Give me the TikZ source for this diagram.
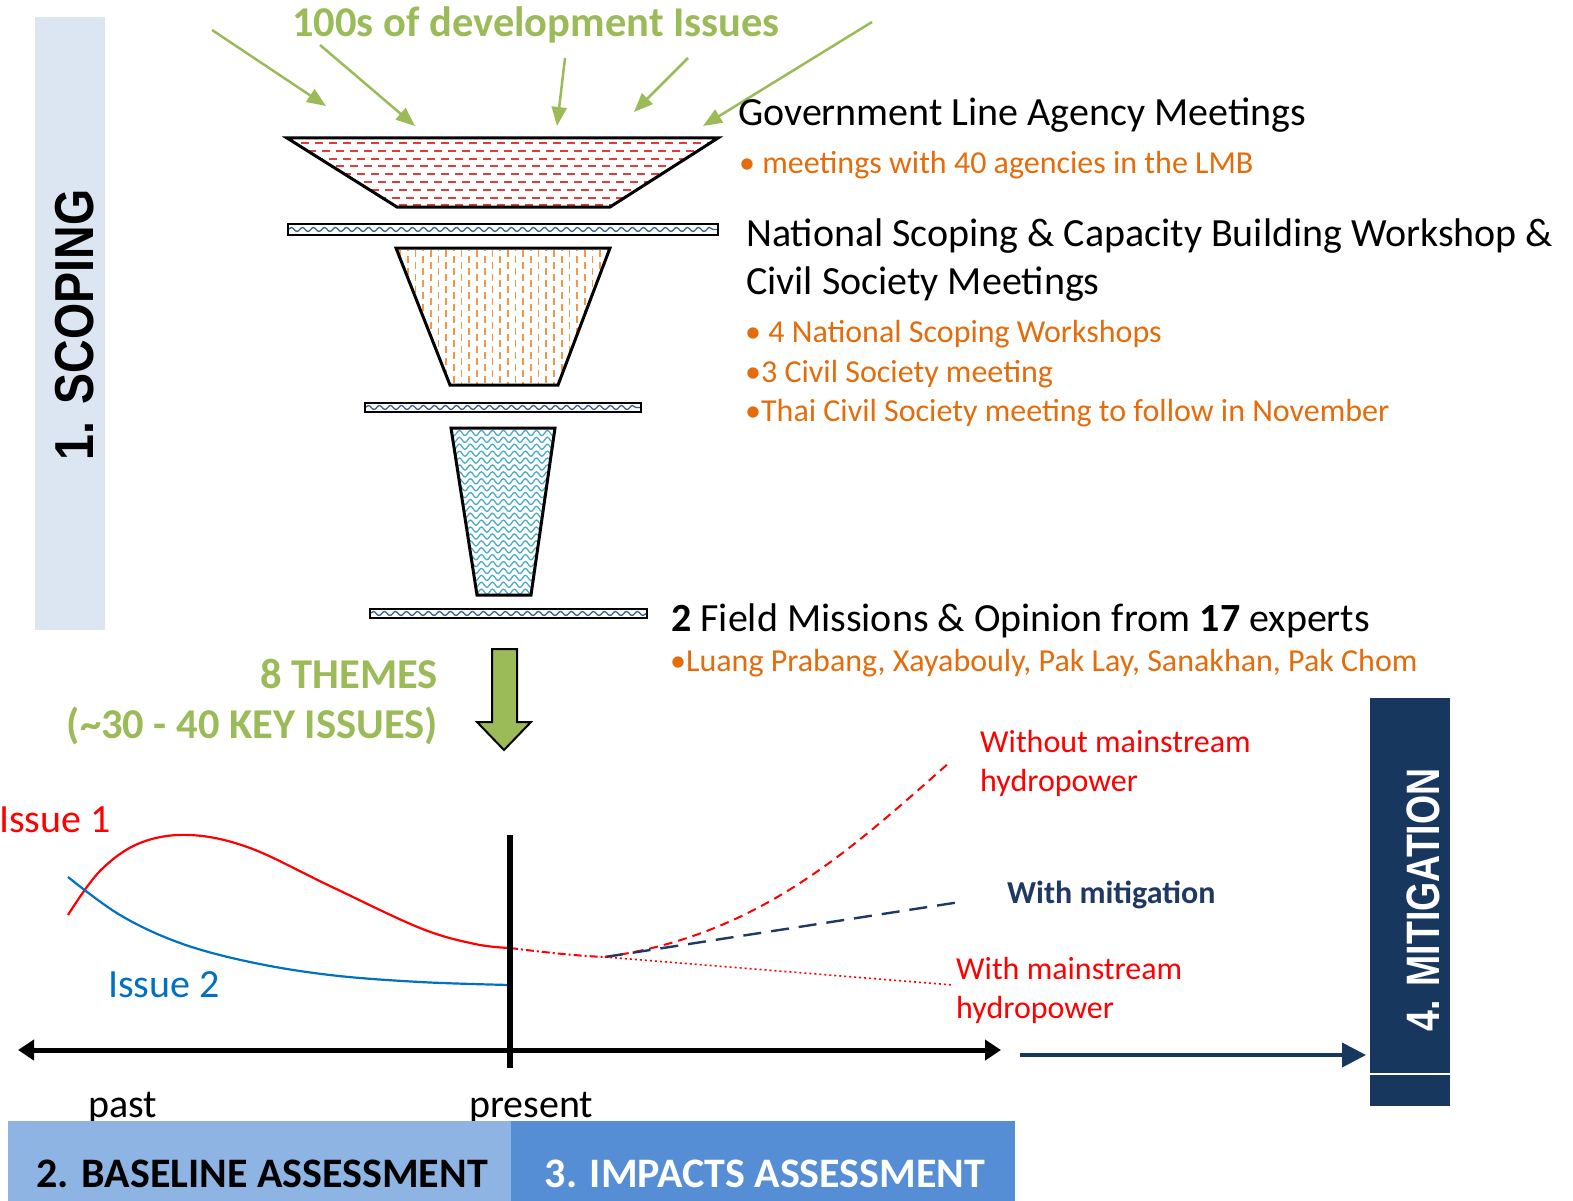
\documentclass[tikz,border=0pt]{standalone}
\usepackage{fontspec}
\setmainfont{Carlito}
\newfontfamily\arialf{Liberation Sans}
\usetikzlibrary{arrows.meta,decorations.pathmorphing}
\definecolor{scopebg}{HTML}{DCE6F2}
\definecolor{gr}{HTML}{9BBB59}
\definecolor{org}{HTML}{E46C0A}
\definecolor{navy}{HTML}{17375E}
\definecolor{basef}{HTML}{8EB4E3}
\definecolor{impf}{HTML}{558ED5}
\definecolor{iss2}{HTML}{0070C0}
\definecolor{dred}{HTML}{E03C3C}
\definecolor{wavb}{HTML}{3A5F8F}
\definecolor{orgd}{HTML}{F79646}
\definecolor{lblue}{HTML}{4BACC6}
\definecolor{mitn}{HTML}{1F3864}
\begin{document}
\begin{tikzpicture}[x=1pt,y=-1pt,
  lbl/.style={inner sep=0pt, anchor=base west},
  maintxt/.style={lbl, font=\fontsize{40}{40}\selectfont},
  subtxt/.style={lbl, text=org, font=\fontsize{32}{32}\selectfont},
  curvetxt/.style={lbl, text=red, font=\fontsize{32}{32}\selectfont},
  greentxt/.style={inner sep=0pt, text=gr, font=\fontsize{42.5}{42.5}\selectfont\bfseries},
  greenarrow/.style={draw=gr, line width=2.5pt, -{Triangle[length=19pt,width=15pt]}},
  funnelborder/.style={draw=black, line width=3pt, line join=miter},
  barwave/.style={wavb, line width=1.3pt, decorate, decoration={snake, segment length=11pt, amplitude=2pt}},
  bandtxt/.style={inner sep=0pt, font=\fontsize{42}{42}\selectfont\bfseries}
]
\useasboundingbox (0,0) rectangle (1573,1201);

% ---------- scoping band
\fill[scopebg] (35,17) rectangle (105,630);
\node[rotate=90, inner sep=0pt] (scoping) at (75,325)
  {\scalebox{1}[1.18]{\arialf\fontsize{46.5}{46.5}\selectfont\bfseries 1. SCOPING}};

% ---------- title and green arrows
\node[greentxt, anchor=base] (title) at (536,37) {100s of development Issues};
\coordinate (a1s) at (212,30);  \coordinate (a1e) at (326,106);
\coordinate (a2s) at (320,45);  \coordinate (a2e) at (415,126);
\coordinate (a3s) at (565,58);  \coordinate (a3e) at (557,126);
\coordinate (a4s) at (688,58);  \coordinate (a4e) at (634,112);
\coordinate (a5s) at (872,22);  \coordinate (a5e) at (703,126);
\foreach \s/\e in {a1s/a1e,a2s/a2e,a3s/a3e,a4s/a4e,a5s/a5e}
  \draw[greenarrow] (\s) -- (\e);

% ---------- funnel 1 (red dashes)
\begin{scope}
  \clip (287,138) -- (718,138) -- (610,207) -- (397,207) -- cycle;
  \foreach \k in {0,...,8} {
    \pgfmathsetmacro{\yy}{143+\k*7.8}
    \pgfmathsetmacro{\ph}{mod(\k,2)*7}
    \draw[dred, line width=1.9pt, dash pattern=on 8pt off 6pt, dash phase=\ph pt] (287,\yy) -- (718,\yy);
  }
\end{scope}
\draw[funnelborder] (287,138) -- (718,138) -- (610,207) -- (397,207) -- cycle;

% bar 1
\fill[white] (288,224) rectangle (718,235);
\begin{scope}\clip (288,224) rectangle (718,235);
  \draw[barwave] (288,229.5) -- (718,229.5);
\end{scope}
\draw[black, line width=2.5pt] (288,224) rectangle (718,235);

% ---------- funnel 2 (orange vertical dashes)
\begin{scope}
  \clip (396,248) -- (610,248) -- (558,385) -- (450,385) -- cycle;
  \foreach \k in {0,...,28} {
    \pgfmathsetmacro{\xx}{400+\k*7.7}
    \pgfmathsetmacro{\ph}{mod(\k,2)*6}
    \draw[orgd, line width=1.7pt, dash pattern=on 7pt off 5pt, dash phase=\ph pt] (\xx,250) -- (\xx,385);
  }
\end{scope}
\draw[funnelborder] (396,248) -- (610,248) -- (558,385) -- (450,385) -- cycle;

% bar 2
\fill[white] (365,403) rectangle (641,412);
\begin{scope}\clip (365,403) rectangle (641,412);
  \draw[barwave] (365,407.5) -- (641,407.5);
\end{scope}
\draw[black, line width=2.5pt] (365,403) rectangle (641,412);

% ---------- funnel 3 (light blue waves)
\begin{scope}
  \clip (451,428) -- (555,428) -- (531,595) -- (477,595) -- cycle;
  \foreach \k in {0,...,24} {
    \pgfmathsetmacro{\yy}{433+\k*6.9}
    \draw[lblue, line width=1.3pt, decorate, decoration={snake, segment length=11pt, amplitude=2.6pt}] (445,\yy) -- (565,\yy);
  }
\end{scope}
\draw[funnelborder] (451,428) -- (555,428) -- (531,595) -- (477,595) -- cycle;

% bar 3
\fill[white] (370,609) rectangle (647,618);
\begin{scope}\clip (370,609) rectangle (647,618);
  \draw[barwave] (370,613.5) -- (647,613.5);
\end{scope}
\draw[black, line width=2.5pt] (370,609) rectangle (647,618);

% ---------- green down arrow
\draw[fill=gr, draw=black, line width=2pt, line join=miter]
  (492,649) -- (517,649) -- (517,722) -- (531,722) -- (504,750) -- (477,722) -- (492,722) -- cycle;
\node[greentxt, anchor=base east] (themes) at (438,688) {8 THEMES};
\node[greentxt, anchor=base east] (keyiss) at (438,738) {(\textasciitilde 30 - 40 KEY ISSUES)};

% ---------- right-hand texts
\node[maintxt] (gov) at (738,126) {Government Line Agency Meetings};
\node[subtxt] (govb) at (739,174) {\textbullet\ meetings with 40 agencies in the LMB};
\node[maintxt] (nat1) at (746,246) {National Scoping \& Capacity Building Workshop \&};
\node[maintxt] (nat2) at (746,294) {Civil Society Meetings};
\node[subtxt] (nb1) at (745,342) {\textbullet\ 4 National Scoping Workshops};
\node[subtxt] (nb2) at (745,382) {\textbullet 3 Civil Society meeting};
\node[subtxt] (nb3) at (745,421) {\textbullet Thai Civil Society meeting to follow in November};
\node[maintxt] (field) at (671,631) {\textbf{2} Field Missions \& Opinion from \textbf{17} experts};
\node[subtxt] (fb) at (670,671) {\textbullet Luang Prabang, Xayabouly, Pak Lay, Sanakhan, Pak Chom};

% ---------- chart
\coordinate (r0) at (68,915);
\coordinate (pres) at (510,948);
\coordinate (fork) at (605,957);
\draw[red, line width=2.2pt] plot[smooth, tension=0.6] coordinates
  {(68,915) (100,871) (140,843) (190,835) (250,848) (330,886) (420,928) (475,944) (510,948)};
\draw[red, line width=2pt, dash pattern=on 8pt off 3pt on 2pt off 3pt] (pres) .. controls (550,953) and (580,956) .. (fork);
\draw[red, line width=2pt, dash pattern=on 9pt off 6pt] (fork) .. controls (760,935) and (850,850) .. (950,762);
\draw[mitn, line width=2.4pt, dash pattern=on 18pt off 10pt] (fork) -- (960,902);
\draw[red, line width=1.6pt, dash pattern=on 2pt off 3pt] (fork) -- (953,985);
\draw[iss2, line width=2.2pt] plot[smooth, tension=0.6] coordinates
  {(68,877) (120,915) (180,943) (250,962) (330,975) (420,982) (510,985)};

\node[lbl, text=red, font=\fontsize{40}{40}\selectfont] (iss1) at (-1,832) {Issue 1};
\node[lbl, text=iss2, font=\fontsize{40}{40}\selectfont] (iss2t) at (108,997) {Issue 2};
\node[curvetxt] (wo1) at (980,752) {Without mainstream};
\node[curvetxt] (wo2) at (980,791) {hydropower};
\node[lbl, text=mitn, font=\fontsize{32}{32}\selectfont\bfseries] (wm) at (1007,903) {With mitigation};
\node[curvetxt] (w1) at (956,979) {With mainstream};
\node[curvetxt] (w2) at (956,1018) {hydropower};

% present line and axis
\coordinate (pt) at (510,835);
\coordinate (pb) at (510,1068);
\draw[black, line width=6.5pt] (pt) -- (pb);
\coordinate (axl) at (18,1050);
\coordinate (axr) at (1001,1050);
\draw[black, line width=5pt, {Triangle[length=16pt,width=20pt]}-{Triangle[length=16pt,width=20pt]}] (axl) -- (axr);

\node[lbl, font=\fontsize{40}{40}\selectfont] (past) at (88,1117) {past};
\node[lbl, font=\fontsize{40}{40}\selectfont] (present) at (469,1117) {present};

% ---------- bottom bands
\fill[basef] (8,1121) rectangle (511,1201);
\fill[impf] (511,1121) rectangle (1015,1201);
\node[bandtxt, anchor=base] (base) at (262,1187) {2. BASELINE ASSESSMENT};
\node[bandtxt, anchor=base, text=white] (imp) at (765,1187) {3. IMPACTS ASSESSMENT};

% ---------- mitigation
\fill[navy] (1370,698) rectangle (1450,1106);
\draw[white, line width=1.5pt] (1370,1074) -- (1450,1074);
\node[rotate=90, inner sep=0pt, text=white] (mit) at (1423,900)
  {\scalebox{1}[1.25]{\arialf\fontsize{37.5}{37.5}\selectfont\bfseries 4. MITIGATION}};
\coordinate (na1) at (1020,1055);
\coordinate (na2) at (1366,1055);
\draw[navy, line width=4pt, -{Triangle[length=24pt,width=24pt]}] (na1) -- (na2);
\end{tikzpicture}
\end{document}
